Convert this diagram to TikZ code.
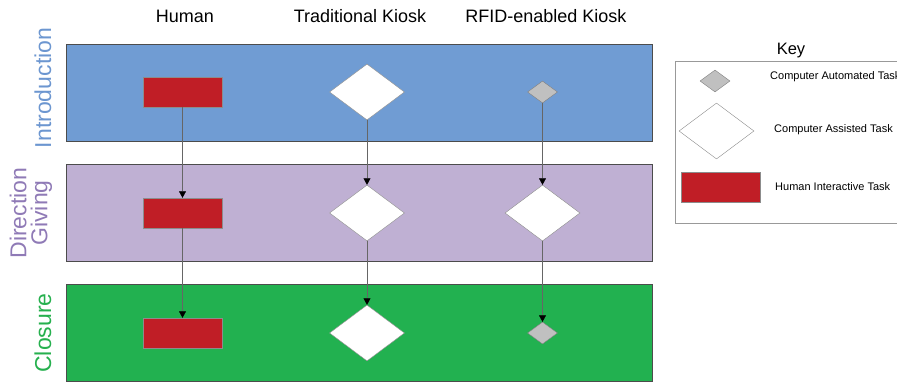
\documentclass[tikz,border=0pt]{standalone}
\usepackage{fontspec}
\setmainfont{Liberation Sans}
\usetikzlibrary{shapes.geometric,arrows.meta}
\definecolor{introblue}{RGB}{112,156,211}
\definecolor{dirpurple}{RGB}{191,176,211}
\definecolor{closegreen}{RGB}{34,177,80}
\definecolor{taskred}{RGB}{192,30,38}
\definecolor{autogrey}{RGB}{192,192,192}
\definecolor{introtext}{RGB}{108,150,208}
\definecolor{dirtext}{RGB}{143,122,182}
\definecolor{closetext}{RGB}{38,176,78}
\begin{document}
\begin{tikzpicture}[x=1pt,y=-1pt]
        \tikzstyle{every node}+=[inner sep=0pt]
        \tikzstyle{band}=[draw=black!70, line width=0.8pt, minimum width=586pt, minimum height=97pt]
        \tikzstyle{human}=[draw=black!45, line width=0.4pt, fill=taskred, minimum width=79pt, minimum height=30pt]
        \tikzstyle{assisted}=[diamond, draw=black!45, line width=0.4pt, fill=white, minimum width=75pt, minimum height=56pt]
        \tikzstyle{automated}=[diamond, draw=black!50, line width=0.4pt, fill=autogrey, minimum width=30pt, minimum height=22pt]
        \tikzstyle{flow}=[draw=black!60, line width=0.5pt, -{Triangle[width=7pt,length=6.5pt,black]}]
        \tikzstyle{header}=[anchor=base, font=\fontsize{18}{20}\selectfont]
        \tikzstyle{phase}=[rotate=90, align=center, font=\fontsize{23}{21}\selectfont]
        \tikzstyle{keytext}=[anchor=west, font=\fontsize{11}{13}\selectfont]
        \useasboundingbox (0,0) rectangle (897,382);
        \node [header] (hhuman) at (185,23) {Human};
        \node [header] (htrad) at (360,23) {Traditional Kiosk};
        \node [header] (hrfid) at (546,23) {RFID-enabled Kiosk};
        \node [band, fill=introblue] (intro) at (359,92.5) {};
        \node [band, fill=dirpurple] (dir) at (359,213) {};
        \node [band, fill=closegreen] (close) at (359,333) {};
        \node [phase, text=introtext] (lintro) at (43,88) {Introduction};
        \node [phase, text=dirtext] (ldir) at (31,213) {Direction\\Giving};
        \node [phase, text=closetext] (lclose) at (43,333) {Closure};
        \node [human] (h1) at (182.5,92) {};
        \node [human] (h2) at (182.5,213) {};
        \node [human] (h3) at (182.5,333) {};
        \node [assisted] (t1) at (367,92) {};
        \node [assisted] (t2) at (367,213) {};
        \node [assisted] (t3) at (367,333) {};
        \node [automated] (r1) at (542.5,92) {};
        \node [assisted] (r2) at (542.5,213) {};
        \node [automated] (r3) at (542.5,333) {};
        \draw [flow] (h1) -- (h2);
        \draw [flow] (h2) -- (h3);
        \draw [flow] (t1) -- (t2);
        \draw [flow] (t2) -- (t3);
        \draw [flow] (r1) -- (r2);
        \draw [flow] (r2) -- (r3);
        \node [font=\fontsize{16.5}{18}\selectfont] (keytitle) at (791,51) {Key};
        \node [draw=black!40, line width=0.5pt, minimum width=240pt, minimum height=162pt] (keybox) at (795,142) {};
        \node [automated] (kauto) at (715,81) {};
        \node [assisted] (kassist) at (716.5,131) {};
        \node [human] (khuman) at (721,187) {};
        \node [keytext] (lauto) at (770,77) {Computer Automated Task};
        \node [keytext] (lassist) at (774,130) {Computer Assisted Task};
        \node [keytext] (lhuman) at (775,187) {Human Interactive Task};
\end{tikzpicture}
\end{document}
